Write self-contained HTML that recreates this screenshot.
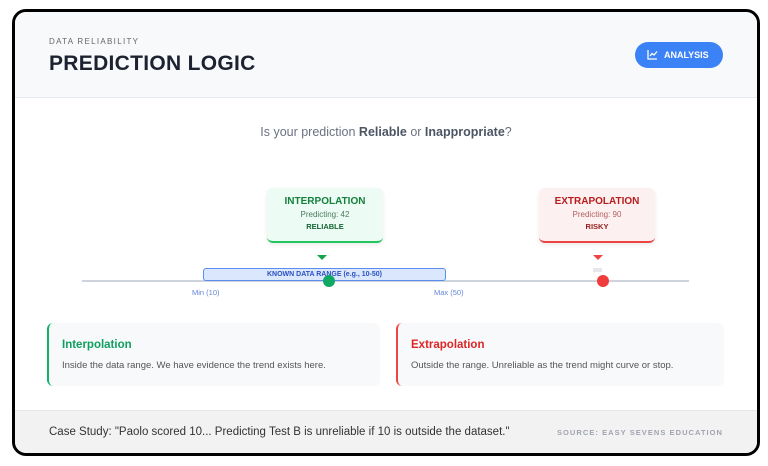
<!DOCTYPE html>
<html><head><meta charset="utf-8"><style>
*{margin:0;padding:0;box-sizing:border-box}
body{width:768px;height:466px;background:#fff;font-family:"Liberation Sans",sans-serif;position:relative;overflow:hidden}
.a{position:absolute}
.frame{left:12px;top:9px;width:748px;height:447px;border:3px solid #000;border-radius:14px;overflow:hidden;background:#fff}
.c{text-align:center}
</style></head><body>
<div class="a frame">
 <div class="a" style="left:0;top:0;width:742px;height:86px;background:#f8f9fb;border-bottom:1px solid #e6e9ee"></div>
 <div class="a" style="left:34px;top:25px;font-size:8px;letter-spacing:1.3px;color:#666">DATA RELIABILITY</div>
 <div class="a" style="left:34px;top:40px;font-size:21px;font-weight:bold;color:#1d2230;letter-spacing:0.3px">PREDICTION LOGIC</div>
 <div class="a" style="left:620px;top:30px;width:88px;height:26px;border-radius:13px;background:#3b82f6;color:#fff;font-size:9px;font-weight:bold;line-height:26px;padding-left:29px">ANALYSIS</div>
 <svg class="a" style="left:632px;top:37px" width="11" height="11"><path d="M1 1V10H10" stroke="#fff" stroke-width="1.3" fill="none"/><path d="M3 7L5 4.5L7 6L10 2.5" stroke="#fff" stroke-width="1.3" fill="none"/></svg>
 <div class="a c" style="left:0;width:742px;top:113px;font-size:12.5px;color:#6b7280">Is your prediction <b style="color:#4b5563">Reliable</b> or <b style="color:#4b5563">Inappropriate</b>?</div>

 <div class="a c" style="left:252px;top:176px;width:116px;height:55px;background:#ecfbf3;border-radius:6px;border-bottom:2px solid #22c55e;box-shadow:0 2px 5px rgba(0,0,0,.08)">
  <div style="margin-top:8px;font-size:10px;font-weight:bold;color:#15803d">INTERPOLATION</div>
  <div style="margin-top:3px;font-size:8px;color:#4b7a5e">Predicting: 42</div>
  <div style="margin-top:3px;font-size:7.5px;font-weight:bold;color:#166534">RELIABLE</div>
 </div>
 <div class="a" style="left:302px;top:243px;border-left:5px solid transparent;border-right:5px solid transparent;border-top:5px solid #16a34a"></div>

 <div class="a c" style="left:524px;top:176px;width:116px;height:55px;background:#fdf0f0;border-radius:6px;border-bottom:2px solid #ef4444;box-shadow:0 2px 5px rgba(0,0,0,.08)">
  <div style="margin-top:8px;font-size:10px;font-weight:bold;color:#b91c1c">EXTRAPOLATION</div>
  <div style="margin-top:3px;font-size:8px;color:#b06060">Predicting: 90</div>
  <div style="margin-top:3px;font-size:7.5px;font-weight:bold;color:#991b1b">RISKY</div>
 </div>
 <div class="a" style="left:578px;top:243px;border-left:5px solid transparent;border-right:5px solid transparent;border-top:5px solid #ef4444"></div>
 <div class="a" style="left:578px;top:256px;width:9px;height:4px;background:#e5e7eb"></div>

 <div class="a" style="left:67px;top:268px;width:607px;height:2px;background:#cfd3dd"></div>
 <div class="a c" style="left:188px;top:256px;width:243px;height:13px;background:#dbe7fd;border:1px solid #5b8def;border-radius:3px;font-size:7px;font-weight:bold;color:#2b50c0;line-height:11px">KNOWN DATA RANGE (e.g., 10-50)</div>
 <div class="a" style="left:308px;top:263px;width:12px;height:12px;border-radius:50%;background:#10a862"></div>
 <div class="a" style="left:582px;top:263px;width:12px;height:12px;border-radius:50%;background:#ef3b3b"></div>
 <div class="a" style="left:177px;top:276px;font-size:7.5px;color:#6486d8">Min (10)</div>
 <div class="a" style="left:419px;top:276px;font-size:7.5px;color:#6486d8">Max (50)</div>

 <div class="a" style="left:32px;top:311px;width:333px;height:63px;background:#f8f9fb;border-radius:6px;border-left:2px solid #10b26a">
  <div class="a" style="left:13px;top:16px;font-size:11.5px;font-weight:bold;color:#0e9f5e">Interpolation</div>
  <div class="a" style="left:13px;top:37px;font-size:9.5px;color:#555;white-space:nowrap">Inside the data range. We have evidence the trend exists here.</div>
 </div>
 <div class="a" style="left:381px;top:311px;width:328px;height:63px;background:#f8f9fb;border-radius:6px;border-left:2px solid #ef4444">
  <div class="a" style="left:13px;top:16px;font-size:11.5px;font-weight:bold;color:#dc2626">Extrapolation</div>
  <div class="a" style="left:13px;top:37px;font-size:9.5px;color:#555;white-space:nowrap">Outside the range. Unreliable as the trend might curve or stop.</div>
 </div>

 <div class="a" style="left:0;top:398px;width:742px;height:50px;background:#f2f2f3;border-top:1px solid #e5e7eb"></div>
 <div class="a" style="left:34px;top:414px;font-size:11.5px;color:#333;white-space:nowrap">Case Study: "Paolo scored 10... Predicting Test B is unreliable if 10 is outside the dataset."</div>
 <div class="a" style="left:542px;top:416px;font-size:7.5px;font-weight:bold;letter-spacing:1.05px;color:#a0a4ad;white-space:nowrap">SOURCE: EASY SEVENS EDUCATION</div>
</div>
</body></html>
